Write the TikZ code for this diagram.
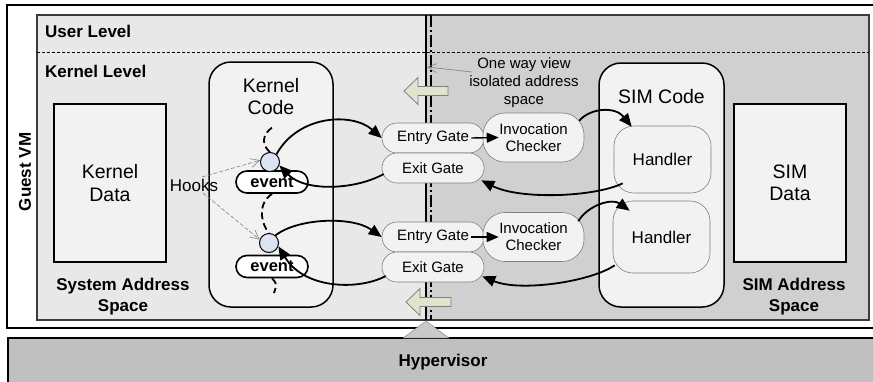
\documentclass[tikz,border=0pt]{standalone}
\usepackage{fontspec}
\setmainfont{Liberation Sans}
\usetikzlibrary{arrows.meta}

\definecolor{leftgray}{HTML}{E8E8E8}
\definecolor{rightgray}{HTML}{D0D0D0}
\definecolor{boxgray}{HTML}{F2F2F2}
\definecolor{framegray}{HTML}{3C3C3C}
\definecolor{hypgray}{HTML}{C0C0C0}
\definecolor{hookblue}{HTML}{DCE4F2}
\definecolor{viewgreen}{HTML}{DFE4CD}

\tikzset{
  bigtext/.style={font=\fontsize{19.5}{22.5}\selectfont, align=center},
  levellabel/.style={font=\bfseries\fontsize{17}{20}\selectfont, inner sep=0pt},
  spacelabel/.style={font=\bfseries\fontsize{17}{21}\selectfont, align=center, inner sep=0pt},
  databox/.style={draw, line width=1.5pt, fill=boxgray, minimum width=112pt, minimum height=158pt, bigtext},
  codebox/.style={draw, line width=1.5pt, fill=boxgray, rounded corners=22pt, minimum width=124pt, minimum height=245pt},
  handlerbox/.style={draw=gray, line width=0.6pt, fill=boxgray, rounded corners=20pt, minimum width=97pt, font=\fontsize{17}{20}\selectfont},
  gatebox/.style={draw=gray, line width=0.6pt, fill=boxgray, rounded corners=15pt, minimum width=102pt, minimum height=30pt, inner sep=0pt, font=\fontsize{15}{18}\selectfont},
  checkbox/.style={draw=gray, line width=0.6pt, fill=boxgray, rounded corners=22pt, minimum width=101pt, minimum height=49pt, inner sep=0pt, align=center, font=\fontsize{15}{17}\selectfont},
  eventbox/.style={draw, line width=1.6pt, fill=white, rounded corners=11pt, minimum width=72pt, minimum height=22pt, inner sep=0pt, font=\bfseries\fontsize{16.5}{18}\selectfont},
  hookpt/.style={circle, draw, line width=1pt, fill=hookblue, minimum size=19pt, inner sep=0pt},
  flow/.style={line width=1.8pt, -{Triangle[length=13pt,width=11pt]}},
  hookarrow/.style={draw=gray, line width=0.6pt, dash pattern=on 4pt off 2pt, -{Straight Barb[length=9pt,width=9pt]}},
  eventpath/.style={line width=1.8pt, dash pattern=on 7pt off 4pt},
  viewarrow/.style={draw=gray, fill=viewgreen, line width=0.8pt},
}

\begin{document}
\begin{tikzpicture}[x=1pt,y=-1pt]
\useasboundingbox (0,0) rectangle (873,381);
% guest vm and hypervisor
\draw[line width=1.5pt, fill=white] (7,5) rectangle (877,328);
\draw[line width=1.5pt, fill=hypgray] (8,338) rectangle (877,385);
\fill[leftgray] (37,15) rectangle (426,320);
\fill[rightgray] (426,15) rectangle (869,320);
\draw[line width=2.5pt, draw=framegray] (37,15) rectangle (869,320);
\draw[line width=1.2pt, dash pattern=on 3pt off 2pt] (37,52.5) -- (869,52.5);
\draw[line width=1.5pt] (426,15) -- (426,320);
\draw[line width=1.2pt, dash pattern=on 12pt off 3pt on 2pt off 3pt] (431,15) -- (431,320);
\draw[draw=gray, fill=hypgray!85] (426,321) -- (449,338) -- (403,338) -- cycle;

\node[levellabel, rotate=90] (guest) at (25,172) {Guest VM};
\node[levellabel] (hyp) at (443,362) {Hypervisor};
\node[levellabel, anchor=west] (user) at (45,31) {User Level};
\node[levellabel, anchor=west] (kernel) at (45,71) {Kernel Level};
\node[spacelabel] (sysspace) at (123,296.5) {System Address\\Space};
\node[spacelabel] (simspace) at (794,297) {SIM Address\\Space};

% address spaces
\node[databox] (kdata) at (110,183) {Kernel\\Data};
\node[databox] (sdata) at (790,183) {SIM\\Data};
\node[codebox] (kcode) at (271,184.5) {};
\node[bigtext] (kcodet) at (271,96.5) {Kernel\\Code};
\node[codebox, minimum width=125pt, minimum height=244pt] (scode) at (661.5,185) {};
\node[bigtext] (scodet) at (661.5,96.7) {SIM Code};
\node[handlerbox, minimum height=67pt] (h1) at (662.5,159.5) {Handler};
\node[handlerbox, minimum height=72pt] (h2) at (661.5,237) {Handler};

% gates
\node[gatebox] (eg1) at (433,138) {Entry Gate};
\node[gatebox] (xg1) at (433,168) {Exit Gate};
\node[gatebox] (eg2) at (433,237) {Entry Gate};
\node[gatebox] (xg2) at (433,267) {Exit Gate};
\node[checkbox] (ic1) at (533.5,137.5) {Invocation\\Checker};
\node[checkbox] (ic2) at (533.5,237) {Invocation\\Checker};

% kernel events
\coordinate (flowtop) at (275,126);
\coordinate (flowbot) at (274,293);
\node[eventbox] (ev1) at (272,182) {event};
\node[eventbox] (ev2) at (272,266.5) {event};
\node[hookpt] (hk1) at (270,162) {};
\node[hookpt] (hk2) at (269,243) {};
\draw[eventpath] (hk1.north) .. controls (258,142) and (266,130) .. (flowtop);
\draw[eventpath] (ev1.south) .. controls (256,205) and (262,225) .. (hk2.north);
\draw[eventpath] (ev2.south) .. controls (277,284) .. (flowbot);

\node[font=\fontsize{17}{20}\selectfont, inner sep=0pt] (hooks) at (194,185) {Hooks};
\draw[hookarrow] ([xshift=8pt,yshift=8pt]hooks.center) -- (hk1.170);
\draw[hookarrow] ([xshift=9pt,yshift=-8pt]hooks.center) -- (hk2.160);

% one way view
\node[font=\fontsize{15}{18}\selectfont, align=center, inner sep=0pt] (ow) at (524,83) {One way view\\isolated address\\space};
\coordinate (viewpt) at (427,67);
\draw[draw=gray, line width=0.6pt, -{Straight Barb[length=9pt,width=9pt]}] ([xshift=3pt,yshift=11pt]ow.west) -- (viewpt);
\draw[viewarrow] (404,91) -- ++(14,-13.5) -- ++(0,9) -- ++(30,0) -- ++(0,9) -- ++(-30,0) -- ++(0,9) -- cycle;
\draw[viewarrow] (406,302) -- ++(14,-13.5) -- ++(0,9) -- ++(31,0) -- ++(0,9) -- ++(-31,0) -- ++(0,9) -- cycle;

% calls
\draw[flow] (hk1.50) .. controls (298,115) and (352,112) .. (eg1.west);
\draw[flow] ([xshift=2pt,yshift=-6pt]xg1.west) .. controls (355,190) and (305,192) .. (hk1.-20);
\draw[flow, line width=1.4pt, -{Triangle[length=12pt,width=10pt]}] ([xshift=-13pt]eg1.east) -- ([xshift=16pt]ic1.west);
\draw[flow] ([xshift=-5pt,yshift=-8pt]ic1.north east) .. controls (590,108) and (615,106) .. ([xshift=18pt,yshift=-1pt]h1.north west);
\draw[flow] ([xshift=9pt,yshift=10pt]h1.south west) .. controls (595,197) and (520,200) .. ([xshift=-3pt,yshift=3pt]xg1.south east);
\draw[flow] (hk2.50) .. controls (298,218) and (352,216) .. (eg2.west);
\draw[flow] ([xshift=4pt,yshift=-9pt]xg2.west) .. controls (360,290) and (305,290) .. (hk2.-20);
\draw[flow, line width=1.4pt, -{Triangle[length=12pt,width=10pt]}] ([xshift=-13pt]eg2.east) -- ([xshift=16pt]ic2.west);
\draw[flow] ([xshift=-6pt,yshift=-9pt]ic2.north east) .. controls (588,205) and (612,198) .. ([xshift=17pt,yshift=-10pt]h2.north west);
\draw[flow] ([xshift=2pt,yshift=8pt]h2.south west) .. controls (590,282) and (520,292) .. ([xshift=-2pt,yshift=6pt]xg2.south east);
\end{tikzpicture}
\end{document}
